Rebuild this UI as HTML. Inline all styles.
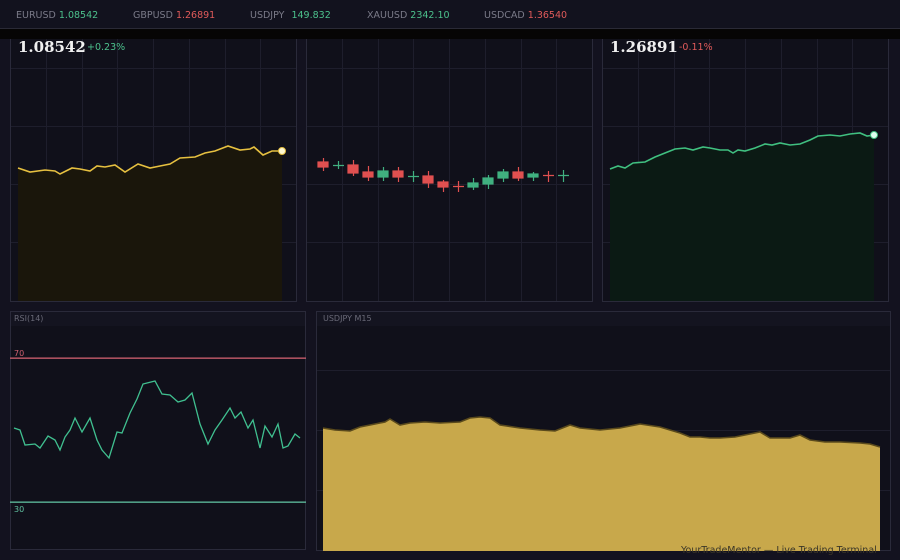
<!DOCTYPE html>
<html><head><meta charset="utf-8"><style>
html,body{margin:0;padding:0;background:#13121f;width:900px;height:560px;overflow:hidden;font-family:"DejaVu Sans",sans-serif}
svg{display:block}
</style></head><body>
<svg width="900" height="560" xmlns="http://www.w3.org/2000/svg" font-family="DejaVu Sans, sans-serif">
<rect width="900" height="560" fill="#13121f"/>
<g stroke="#2a2a3a" fill="#10101a">
<rect x="10.5" y="10.5" width="286" height="291"/>
<rect x="306.5" y="10.5" width="286" height="291"/>
<rect x="602.5" y="10.5" width="286" height="291"/>
</g>
<g stroke="#1e1e2c" stroke-width="1">
<path d="M11 68.5H296M11 126.5H296M11 184.5H296M11 242.5H296M307 68.5H592M307 126.5H592M307 184.5H592M307 242.5H592M603 68.5H888M603 126.5H888M603 184.5H888M603 242.5H888"/>
<path d="M46.5 11V301M82.5 11V301M117.5 11V301M153.5 11V301M189.5 11V301M225.5 11V301M260.5 11V301M342.5 11V301M378.5 11V301M413.5 11V301M449.5 11V301M485.5 11V301M521.5 11V301M556.5 11V301M638.5 11V301M674.5 11V301M709.5 11V301M745.5 11V301M781.5 11V301M817.5 11V301M852.5 11V301"/>
</g>
<path d="M18,168 L30,172 45,170 55,171 60,174 72,168 80,169 90,171 97,166 105,167 115,165 125,172 138,164 150,168 160,166 170,164 180,158 195,157 205,153 215,151 228,146 240,150 250,149 254,147 263,155 272,151 282,151 L282,301 18,301Z" fill="#1a160b"/>
<path d="M18,168 L30,172 45,170 55,171 60,174 72,168 80,169 90,171 97,166 105,167 115,165 125,172 138,164 150,168 160,166 170,164 180,158 195,157 205,153 215,151 228,146 240,150 250,149 254,147 263,155 272,151 282,151" fill="none" stroke="#e6c040" stroke-width="1.6"/>
<circle cx="282" cy="151" r="3.5" fill="#fff8d0" stroke="#e6c040"/>
<path d="M610,169 L618,166 625,168 633,163 645,162 655,157 665,153 675,149 685,148 693,150 703,147 710,148 720,150 728,150 733,153 738,150 745,151 755,148 765,144 772,145 780,143 790,145 800,144 810,140 818,136 830,135 840,136 850,134 860,133 867,136 874,135 L874,301 610,301Z" fill="#0b1a14"/>
<path d="M610,169 L618,166 625,168 633,163 645,162 655,157 665,153 675,149 685,148 693,150 703,147 710,148 720,150 728,150 733,153 738,150 745,151 755,148 765,144 772,145 780,143 790,145 800,144 810,140 818,136 830,135 840,136 850,134 860,133 867,136 874,135" fill="none" stroke="#40c080" stroke-width="1.6"/>
<circle cx="874" cy="135" r="3.5" fill="#e0fff0" stroke="#40c080"/>
<g stroke-width="1.2">
<g stroke="#e05050" fill="#e05050">
<path d="M323.5 158V171"/><rect x="318" y="162" width="10" height="5"/>
<path d="M353.5 160V176"/><rect x="348" y="165" width="10" height="8"/>
<path d="M368.5 166V181"/><rect x="363" y="172" width="10" height="5"/>
<path d="M398.5 167V182"/><rect x="393" y="171" width="10" height="6"/>
<path d="M428.5 171V188"/><rect x="423" y="176" width="10" height="7"/>
<path d="M443.5 180V192"/><rect x="438" y="182" width="10" height="5"/>
<path d="M458.5 181V192M453 186.5H464"/>
<path d="M518.5 167V181"/><rect x="513" y="172" width="10" height="6"/>
<path d="M548.5 171V182M543 175.5H554"/>
</g>
<g stroke="#40b080" fill="#40b080">
<path d="M338.5 161V169M333 165.5H344"/>
<path d="M383.5 167V181"/><rect x="378" y="171" width="10" height="6"/>
<path d="M413.5 171V182M408 176.5H419"/>
<path d="M473.5 178V190"/><rect x="468" y="183" width="10" height="4"/>
<path d="M488.5 175V189"/><rect x="483" y="178" width="10" height="6"/>
<path d="M503.5 169V182"/><rect x="498" y="172" width="10" height="6"/>
<path d="M533.5 172V181"/><rect x="528" y="174" width="10" height="3"/>
<path d="M563.5 170V182M558 175.5H569"/>
</g>
</g>
<rect x="0" y="0" width="900" height="28" fill="#12121e"/>
<rect x="0" y="28" width="900" height="1" fill="#2a2a36"/>
<rect x="0" y="29" width="900" height="10" fill="#060505"/>
<g font-size="9.5">
<text x="16" y="18" fill="#7a7a88">EURUSD <tspan fill="#4cc08c">1.08542</tspan></text>
<text x="133" y="18" fill="#7a7a88">GBPUSD <tspan fill="#e05a5a">1.26891</tspan></text>
<text x="250" y="18" fill="#7a7a88">USDJPY <tspan dx="4" fill="#4cc08c">149.832</tspan></text>
<text x="367" y="18" fill="#7a7a88">XAUUSD <tspan fill="#4cc08c">2342.10</tspan></text>
<text x="484" y="18" fill="#7a7a88">USDCAD <tspan fill="#e05a5a">1.36540</tspan></text>
</g>
<text x="18" y="52" font-family="DejaVu Serif, serif" font-weight="bold" font-size="15" fill="#f0f0f0">1.08542</text>
<text x="87" y="50" font-size="9.5" fill="#4cc08c">+0.23%</text>
<text x="610" y="52" font-family="DejaVu Serif, serif" font-weight="bold" font-size="15" fill="#f0f0f0">1.26891</text>
<text x="679" y="50" font-size="9.5" fill="#e05a5a">-0.11%</text>
<rect x="10.5" y="311.5" width="295" height="238" fill="#10101a" stroke="#2a2a3a"/>
<rect x="11" y="312" width="294" height="14" fill="#141420"/>
<text x="14" y="321" font-size="8" fill="#6a6a78">RSI(14)</text>
<rect x="10" y="357.5" width="296" height="1.3" fill="#d06070"/>
<text x="14" y="356" font-size="8" fill="#d06070">70</text>
<rect x="10" y="501.5" width="296" height="1.3" fill="#60c0a0"/>
<text x="14" y="512" font-size="8" fill="#60c0a0">30</text>
<path d="M14,428 L20,430 25,445 35,444 40,448 48,436 55,440 60,450 65,437 70,430 75,418 82,432 90,418 97,440 102,450 109,458 117,432 122,433 130,413 137,399 143,384 155,381 162,394 170,395 178,402 185,400 192,393 200,424 208,444 215,430 222,420 230,408 235,418 241,412 248,428 253,420 260,448 265,426 272,437 278,424 283,448 288,446 295,434 300,438" fill="none" stroke="#40c090" stroke-width="1.3"/>
<rect x="316.5" y="311.5" width="574" height="239" fill="#10101a" stroke="#2a2a3a"/>
<rect x="317" y="312" width="573" height="14" fill="#141420"/>
<text x="323" y="321" font-size="8" fill="#6a6a78">USDJPY  M15</text>
<path d="M317 370.5H890M317 430.5H890M317 490.5H890" stroke="#1e1e2c"/>
<path d="M323,428 L335,430 350,431 360,427 375,424 385,422 390,419 400,425 410,423 425,422 440,423 460,422 470,418 480,417 490,418 500,425 520,428 540,430 555,431 570,425 580,428 600,430 620,428 640,424 660,427 680,433 690,437 700,437 710,438 720,438 735,437 745,435 760,432 770,438 790,438 800,435 810,440 825,442 840,442 860,443 870,444 880,447 L880,551 323,551Z" fill="#c8a84b"/>
<path d="M323,428 L335,430 350,431 360,427 375,424 385,422 390,419 400,425 410,423 425,422 440,423 460,422 470,418 480,417 490,418 500,425 520,428 540,430 555,431 570,425 580,428 600,430 620,428 640,424 660,427 680,433 690,437 700,437 710,438 720,438 735,437 745,435 760,432 770,438 790,438 800,435 810,440 825,442 840,442 860,443 870,444 880,447" fill="none" stroke="#5a4a1c" stroke-width="1.6"/>
<rect x="0" y="551" width="900" height="9" fill="#13121f"/>
<text x="681" y="553" font-size="9.5" fill="#3a3628">YourTradeMentor — Live Trading Terminal</text>
</svg>
</body></html>
